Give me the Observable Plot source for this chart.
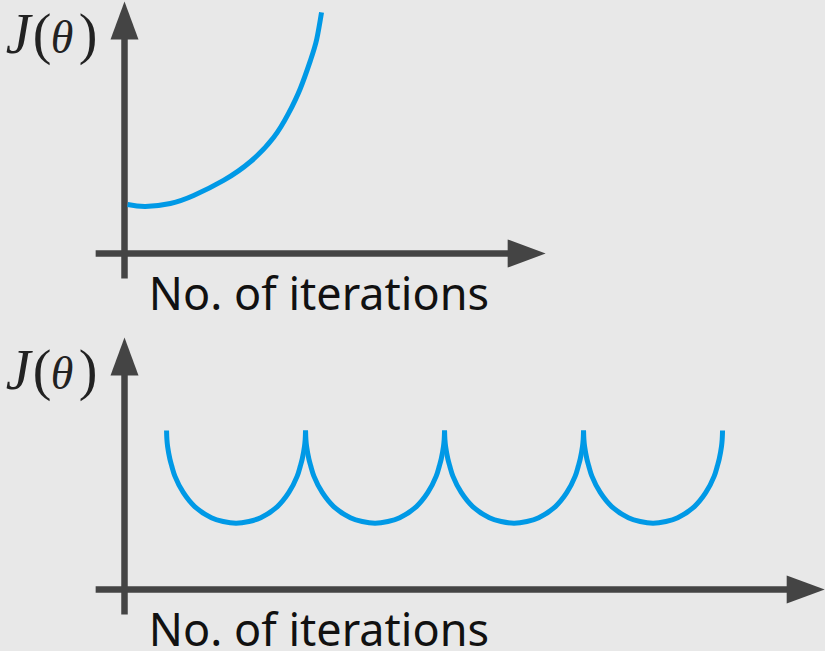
<!DOCTYPE html>
<html>
<head>
<meta charset="utf-8">
<script src="https://cdn.jsdelivr.net/npm/d3@7"></script>
<script src="https://cdn.jsdelivr.net/npm/@observablehq/plot@0.6"></script>
<style>
  html, body { margin: 0; padding: 0; background: #e8e8e8; }
  #chart svg { display: block; }
</style>
</head>
<body>
<div id="chart"></div>
<script>
// ---- Data ----
// Top panel: cost J(θ) vs number of iterations (diverging)
const divergeIter = [0.09, 0.60, 1.32, 1.99, 2.85, 3.63, 4.29, 4.72, 5.06, 5.35, 5.53, 5.67];
const divergeCost = [2.33, 2.24, 2.38, 2.76, 3.48, 4.38, 5.52, 6.67, 7.86, 9.19, 10.19, 11.48];

// Bottom panel: cost oscillating (repeated arcs)
const arcStarts = [1.21, 5.21, 9.21, 13.21];
const arcOffset = [0, 0.01, 0.03, 0.095, 0.15, 0.24, 0.48, 0.81, 1.29, 1.63, 2.0, 2.37, 2.71, 3.19, 3.52, 3.76, 3.85, 3.905, 3.97, 3.99, 4.0];
const arcCost   = [7.57, 7.15, 6.82, 6.22, 5.88, 5.40, 4.62, 3.95, 3.42, 3.24, 3.16, 3.24, 3.42, 3.95, 4.62, 5.40, 5.88, 6.22, 6.82, 7.15, 7.57];

// Axis extents (data units)
const axisStart = { x: -0.83, y: -1.19 };
const axisEnd = { top: 12.12, bottom: 20.15, y: 12.0 };

const xLabel = "No. of iterations";
const yLabelParts = [
  { t: "J", dx: 0, italic: true, size: 56 },
  { t: "(", dx: 27, italic: false, size: 56 },
  { t: "θ", dx: 45, italic: true, size: 46 },
  { t: ")", dx: 73, italic: false, size: 56 }
];

// ---- Helpers ----
const axisColor = "#444";
const curveColor = "#0099e6";
const headLen = 38, headHalf = 14;
const arrowRight = { draw(ctx) { ctx.moveTo(0, 0); ctx.lineTo(-headLen, -headHalf); ctx.lineTo(-headLen, headHalf); ctx.closePath(); } };
const arrowUp = { draw(ctx) { ctx.moveTo(0, 0); ctx.lineTo(-headHalf, headLen); ctx.lineTo(headHalf, headLen); ctx.closePath(); } };

function panel(height, xTip, curveMarks) {
  const xBase = xTip - 1.0;
  const yBase = axisEnd.y - 1.75;
  return Plot.plot({
    width: 825,
    height,
    margin: 0,
    style: { background: "#e8e8e8", overflow: "visible" },
    x: { domain: [0, 20], range: [124, 819], axis: null },
    y: { domain: [0, 12], range: [253, 1], axis: null },
    marks: [
      Plot.line([{ x: axisStart.x, y: 0 }, { x: xBase, y: 0 }], { x: "x", y: "y", stroke: axisColor, strokeWidth: 6.5, strokeLinecap: "butt" }),
      Plot.line([{ x: 0, y: axisStart.y }, { x: 0, y: yBase }], { x: "x", y: "y", stroke: axisColor, strokeWidth: 6.5, strokeLinecap: "butt" }),
      Plot.dot([{ x: xTip, y: 0 }], { x: "x", y: "y", symbol: arrowRight, fill: axisColor, stroke: null, r: 10 }),
      Plot.dot([{ x: 0, y: axisEnd.y }], { x: "x", y: "y", symbol: arrowUp, fill: axisColor, stroke: null, r: 10 }),
      ...curveMarks,
      Plot.text([{ x: 0.7, y: -2.71, t: xLabel }], { x: "x", y: "y", text: "t", textAnchor: "start", lineAnchor: "bottom", fontSize: 45, fontFamily: "Noto Sans", fill: "#111" }),
      ...yLabelParts.map(p =>
        Plot.text([{ x: -3.42, y: 9.57, t: p.t }], { x: "x", y: "y", text: "t", dx: p.dx, textAnchor: "start", lineAnchor: "bottom", fontSize: p.size, fontFamily: "Liberation Serif", fontStyle: p.italic ? "italic" : "normal", fill: "#222" })
      )
    ]
  });
}

const divergeData = divergeIter.map((x, i) => ({ x, y: divergeCost[i] }));
const arcData = arcStarts.flatMap((s, k) => arcOffset.map((o, i) => ({ x: s + o, y: arcCost[i], arc: k })));

const topPanel = panel(336, axisEnd.top, [
  Plot.line(divergeData, { x: "x", y: "y", stroke: curveColor, strokeWidth: 5, curve: "natural", strokeLinecap: "butt" })
]);
const bottomPanel = panel(315, axisEnd.bottom, [
  Plot.line(arcData, { x: "x", y: "y", z: "arc", stroke: curveColor, strokeWidth: 5, curve: "catmull-rom", strokeLinecap: "butt" })
]);

document.getElementById("chart").append(topPanel, bottomPanel);
</script>
</body>
</html>
